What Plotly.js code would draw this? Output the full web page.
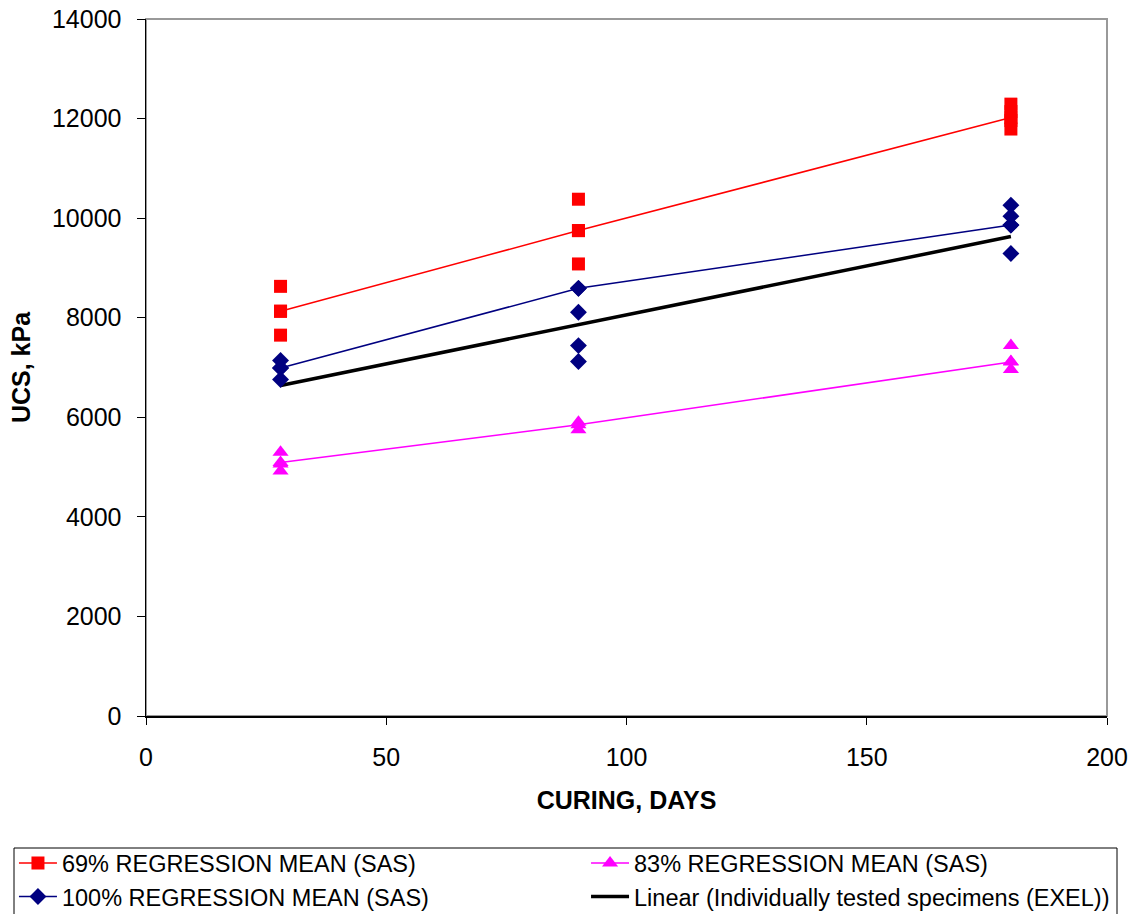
<!DOCTYPE html>
<html>
<head>
<meta charset="utf-8">
<script src="https://cdn.plot.ly/plotly-3.0.1.min.js"></script>
<style>html,body{margin:0;padding:0;background:#fff;}#chart{width:1141px;height:914px;}</style>
</head>
<body>
<div id="chart"></div>
<script>
// Curing time (days)
const days = [28, 90, 180];

// 69% regression mean (SAS)
const mean69 = [8130, 9750, 12020];
const ind69Days = [28, 28, 28, 90, 90, 90, 180, 180, 180, 180];
const ind69 = [8630, 8130, 7650, 10380, 9750, 9080, 12290, 12140, 11960, 11790];

// 83% regression mean (SAS)
const mean83 = [5090, 5850, 7110];
const ind83Days = [28, 28, 28, 90, 90, 180, 180, 180];
const ind83 = [5300, 5060, 4920, 5900, 5750, 7440, 7120, 6960];

// 100% regression mean (SAS)
const mean100 = [6990, 8590, 9860];
const ind100Days = [28, 28, 28, 90, 90, 90, 90, 180, 180, 180, 180];
const ind100 = [7140, 6990, 6760, 8590, 8110, 7440, 7120, 10260, 10040, 9860, 9290];

// Linear trend (Individually tested specimens (EXEL))
const trendDays = [28, 180];
const trendUCS = [6640, 9630];

const labels = [
  '69% REGRESSION MEAN (SAS)',
  '83% REGRESSION MEAN (SAS)',
  '100% REGRESSION MEAN (SAS)',
  'Linear (Individually tested specimens (EXEL))'
];

const FONT = 'Liberation Sans, Arial, sans-serif';

const traces = [
  {x: days, y: mean69, name: labels[0], mode: 'lines+markers', legend: 'legend', legendrank: 1,
   line: {color: '#FF0000', width: 1.5}, marker: {symbol: 'square', size: 13, color: '#FF0000'}},
  {x: days, y: mean83, name: labels[1], mode: 'lines+markers', legend: 'legend2', legendrank: 1,
   line: {color: '#FF00FF', width: 1.5}, marker: {symbol: 'triangle-up', size: 14, color: '#FF00FF'}},
  {x: days, y: mean100, name: labels[2], mode: 'lines+markers', legend: 'legend', legendrank: 2,
   line: {color: '#000080', width: 1.5}, marker: {symbol: 'diamond', size: 13, color: '#000080'}},
  {x: trendDays, y: trendUCS, name: labels[3], mode: 'lines', legend: 'legend2', legendrank: 2,
   line: {color: '#000000', width: 3.5}},
  {x: ind69Days, y: ind69, mode: 'markers', showlegend: false, hoverinfo: 'x+y',
   marker: {symbol: 'square', size: 13, color: '#FF0000'}},
  {x: ind83Days, y: ind83, mode: 'markers', showlegend: false, hoverinfo: 'x+y',
   marker: {symbol: 'triangle-up', size: 14, color: '#FF00FF'}},
  {x: ind100Days, y: ind100, mode: 'markers', showlegend: false, hoverinfo: 'x+y',
   marker: {symbol: 'diamond', size: 13, color: '#000080'}}
];

const legendCommon = {
  orientation: 'v', xanchor: 'left', yanchor: 'top',
  borderwidth: 0, bgcolor: 'rgba(0,0,0,0)',
  font: {family: FONT, size: 23.5, color: '#000000'},
  itemwidth: 38, traceorder: 'normal', tracegroupgap: 0
};

const layout = {
  width: 1141, height: 914,
  margin: {l: 146, r: 34, t: 19, b: 198, autoexpand: false},
  paper_bgcolor: '#ffffff', plot_bgcolor: '#ffffff',
  font: {family: FONT, size: 24, color: '#000000'},
  showlegend: true,
  xaxis: {
    range: [0, 200], tickvals: [0, 50, 100, 150, 200], ticktext: ['0', '50', '100', '150', '200'],
    showgrid: false, zeroline: false, showline: true, linecolor: '#000000', linewidth: 1.5,
    ticks: 'outside', ticklen: 7, tickcolor: '#000000', tickwidth: 1,
    tickfont: {family: FONT, size: 25, color: '#000000'},
    ticklabelstandoff: 11,
    title: {text: '<b>CURING, DAYS</b>', font: {family: FONT, size: 25, color: '#000000'}, standoff: 22},
    automargin: false
  },
  yaxis: {
    range: [0, 14000], tickvals: [0, 2000, 4000, 6000, 8000, 10000, 12000, 14000],
    ticktext: ['0', '2000', '4000', '6000', '8000', '10000', '12000', '14000'],
    showgrid: false, zeroline: false, showline: true, linecolor: '#000000', linewidth: 1.5,
    ticks: 'outside', ticklen: 8, tickcolor: '#000000', tickwidth: 1,
    tickfont: {family: FONT, size: 25, color: '#000000'},
    ticklabelstandoff: 10,
    title: {text: '<b>UCS, kPa</b>', font: {family: FONT, size: 25, color: '#000000'}, standoff: 14},
    automargin: false
  },
  legend: Object.assign({}, legendCommon, {x: -0.1374, y: -0.1796}),
  legend2: Object.assign({}, legendCommon, {x: 0.4579, y: -0.1796}),
  shapes: [
    {type: 'rect', xref: 'paper', yref: 'paper', x0: 0, x1: 1, y0: 0, y1: 1,
     line: {color: '#999999', width: 2}, layer: 'below'},
    {type: 'rect', xref: 'paper', yref: 'paper',
     x0: (14 - 146) / 961, x1: (1117 - 146) / 961,
     y0: (716 - 925) / 697, y1: (716 - 848) / 697,
     line: {color: '#000000', width: 1}, fillcolor: 'rgba(0,0,0,0)', layer: 'below'}
  ]
};

Plotly.newPlot('chart', traces, layout, {displayModeBar: false, staticPlot: true});
</script>
</body>
</html>
